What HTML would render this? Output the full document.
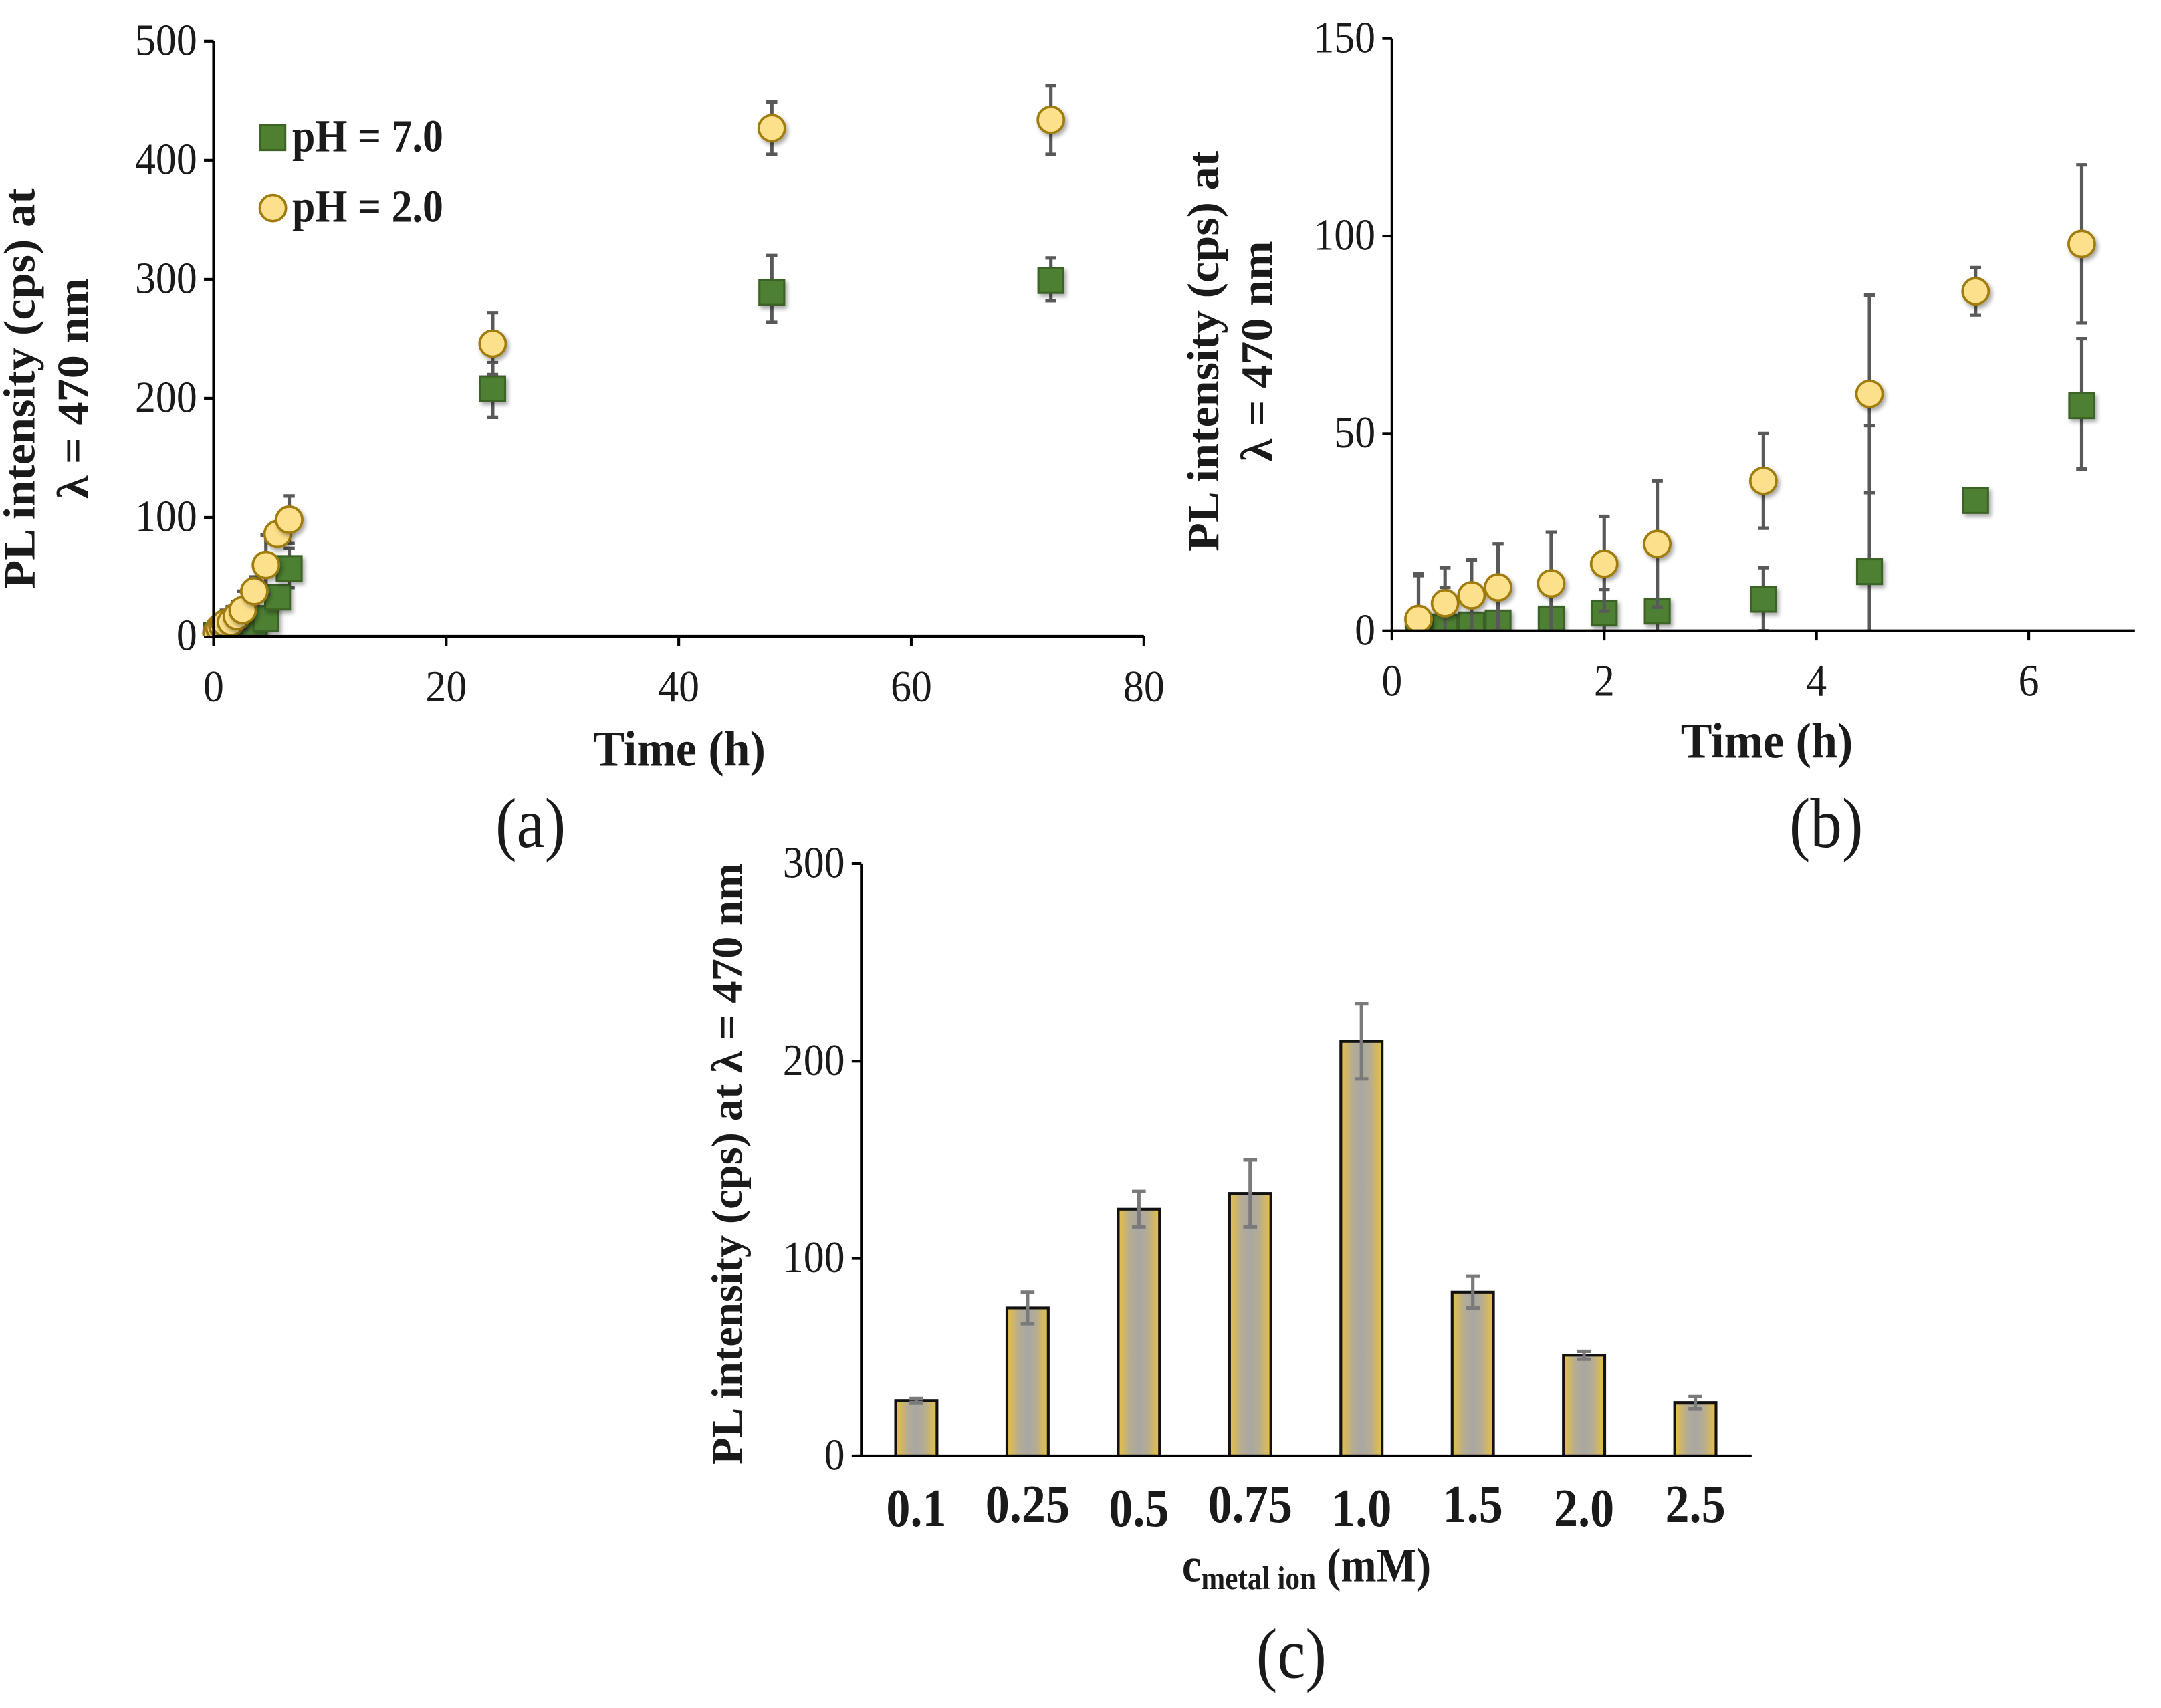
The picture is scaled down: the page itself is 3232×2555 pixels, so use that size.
<!DOCTYPE html>
<html><head><meta charset="utf-8"><style>
html,body{margin:0;padding:0;background:#fff;}
svg{display:block;}
text{font-family:"Liberation Serif",serif;fill:#1a1a1a;}
</style></head><body>
<svg id="fig" width="3232" height="2555" viewBox="0 0 1568 1240" preserveAspectRatio="none" xmlns="http://www.w3.org/2000/svg">
<defs>
<linearGradient id="barg" x1="0" y1="0" x2="1" y2="0">
<stop offset="0" stop-color="#e8c040"/><stop offset="0.3" stop-color="#b4ac94"/><stop offset="0.5" stop-color="#a9a7a3"/><stop offset="0.7" stop-color="#b4ac94"/><stop offset="1" stop-color="#e8c040"/>
</linearGradient>
<filter id="sh" x="-30%" y="-30%" width="160%" height="160%"><feDropShadow dx="1.5" dy="2" stdDeviation="1.5" flood-color="#000" flood-opacity="0.35"/></filter>
</defs>
<g id="pa"></g>
<g id="pb"></g>
<g id="pc"></g>
</svg>
<script>
// Panel a/b data: time (h), intensity, error (+/-)
const timeH = [0.25,0.5,0.75,1,1.5,2,2.5,3.5,4.5,5.5,6.5,24,48,72];
const ph7Vals = [0.5,1,1.5,2,3,4.5,5,8,15,33,57,208,289,299];
const ph7ErrUp = [14,10,10,8,6,6,20,8,37,0,17,22,31,19];
const ph7ErrDn = [14,10,10,8,6,6,20,8,37,0,16,24,25,17];
const ph2Vals = [3,7,9,11,12,17,22,38,60,86,98,246,427,434];
const ph2Err = [11,9,9,11,13,12,16,12,25,6,20,26,22,29];
// Panel c data
const concLabels = ["0.1","0.25","0.5","0.75","1.0","1.5","2.0","2.5"];
const concVals = [28,75,125,133,210,83,51,27];
const concErr = [1,8,9,17,19,8,2,3];

const NS="http://www.w3.org/2000/svg";
function mk(parent,tag,attrs,txt){const e=document.createElementNS(NS,tag);for(const k in attrs)e.setAttribute(k,attrs[k]);if(txt!==undefined)e.textContent=txt;parent.appendChild(e);return e;}
function txt(parent,x,y,str,size,sy,anchor,bold){
  const a={transform:`translate(${x},${y}) scale(1,${sy})`,"text-anchor":anchor,"font-size":size};
  if(bold)a["font-weight"]="bold";
  return mk(parent,"text",a,str);
}
const ERRC="#595959";

function scatterPanel(g,cfg){
  const sx=v=>cfg.x0+(v-cfg.xmin)/(cfg.xmax-cfg.xmin)*(cfg.x1-cfg.x0);
  const sy=v=>cfg.y0-(v-0)/(cfg.ymax)*(cfg.y0-cfg.y1);
  const clipId=cfg.id+"clip";
  const cp=mk(g,"clipPath",{id:clipId});mk(cp,"rect",{x:cfg.x0-30,y:cfg.y1-40,width:cfg.x1-cfg.x0+60,height:cfg.y0-cfg.y1+40});
  cfg.yticks.forEach(v=>{
    const l=mk(g,"line",{x1:cfg.x0-7,x2:cfg.x0,y1:sy(v),y2:sy(v),stroke:"#000","stroke-width":2});
    
    
    const t=txt(g,cfg.x0-12,sy(v)+10,String(v),30,1.08,"end",false);
    
    
  });
  cfg.xticks.forEach(v=>{
    const l=mk(g,"line",{x1:sx(v),x2:sx(v),y1:cfg.y0,y2:cfg.y0+7,stroke:"#000","stroke-width":2});
    
    
    const t=txt(g,sx(v),cfg.y0+47,String(v),30,1.08,"middle",false);
    
    
  });
  const mg=mk(g,"g",{"clip-path":"url(#"+clipId+")"});
  const idx=timeH.map((t,i)=>i).filter(i=>timeH[i]<=cfg.xmax);
  function eb(x,v,up,dn){
    if(up<=0&&dn<=0)return;
    const ytop=sy(v+up), ybot=sy(v-dn);
    const e=mk(mg,"path",{d:`M${x},${ytop}V${ybot}M${x-4},${ytop}H${x+4}M${x-4},${ybot}H${x+4}`,stroke:ERRC,"stroke-width":2.5,fill:"none"});
    
    
  }
  idx.forEach(i=>{eb(sx(timeH[i]),ph7Vals[i],ph7ErrUp[i],ph7ErrDn[i]);});
  idx.forEach(i=>{
    const x=sx(timeH[i]),y=sy(ph7Vals[i]);
    const r=mk(mg,"rect",{x:x-9,y:y-9,width:18,height:18,fill:"#4e8030",stroke:"#3b6425","stroke-width":1.5,filter:"url(#sh)"});
    
    
  });
  idx.forEach(i=>{eb(sx(timeH[i]),ph2Vals[i],ph2Err[i],ph2Err[i]);});
  idx.forEach(i=>{
    const x=sx(timeH[i]),y=sy(ph2Vals[i]);
    const c=mk(mg,"circle",{cx:x,cy:y,r:9.5,fill:"#fde08c",stroke:"#a07c10","stroke-width":1.8,filter:"url(#sh)"});
    
    
  });
  const ya=mk(g,"line",{x1:cfg.x0,x2:cfg.x0,y1:cfg.y1,y2:cfg.y0,stroke:"#000","stroke-width":2});
  
  
  const xa=mk(g,"line",{x1:cfg.x0,x2:cfg.x1,y1:cfg.y0,y2:cfg.y0,stroke:"#000","stroke-width":2});
  
  
  const yt=mk(g,"text",{transform:`translate(${cfg.ylx},${cfg.yly}) rotate(-90) scale(1.1,1.05)`,"text-anchor":"middle","font-weight":"bold","font-size":"31"});
  
  
  mk(yt,"tspan",{x:0,y:0},"PL intensity (cps) at");
  mk(yt,"tspan",{x:0,y:37},"λ = 470 nm");
  const xt=txt(g,cfg.xtx,cfg.xty,"Time (h)",34,1.08,"middle",true);
  
  
  const pl=txt(g,cfg.plx,cfg.ply,cfg.label,46,1.12,"middle",false);
  
  
}

scatterPanel(document.getElementById("pa"),{id:"a",x0:155,x1:830,y0:462,y1:30,xmin:0,xmax:80,ymax:500,
  yticks:[0,100,200,300,400,500],xticks:[0,20,40,60,80],ylx:25,yly:282,xtx:493,xty:556,plx:385,ply:615,label:"(a)"});
scatterPanel(document.getElementById("pb"),{id:"b",x0:1010,x1:1549,y0:458,y1:28,xmin:0,xmax:7,ymax:150,
  yticks:[0,50,100,150],xticks:[0,2,4,6],ylx:884,yly:255,xtx:1282,xty:550,plx:1325,ply:615,label:"(b)"});

(function(){
  const g=document.getElementById("pa");
  const lg=mk(g,"g",{});
  
  
  const r=mk(lg,"rect",{x:189,y:91,width:18,height:18,fill:"#4e8030",stroke:"#3b6425","stroke-width":1.5});
  
  
  const t1=txt(lg,212,110,"pH = 7.0",30,1.12,"start",true);
  
  
  const c=mk(lg,"circle",{cx:198,cy:151,r:9.5,fill:"#fde08c",stroke:"#a07c10","stroke-width":1.8});
  
  
  const t2=txt(lg,212,161,"pH = 2.0",30,1.12,"start",true);
  
  
})();

(function(){
  const g=document.getElementById("pc");
  const x0=625,x1=1271,y0=1057,y1=627,ymax=300;
  const sy=v=>y0-v/ymax*(y0-y1);
  const band=(1271-625)/concLabels.length;
  const cx=i=>x0+band*(i+0.5)-0.5;
  [0,100,200,300].forEach(v=>{
    const l=mk(g,"line",{x1:x0-7,x2:x0,y1:sy(v),y2:sy(v),stroke:"#000","stroke-width":2});
    
    
    const t=txt(g,x0-12,sy(v)+10,String(v),30,1.08,"end",false);
    
    
  });
  concVals.forEach((v,i)=>{
    const r=mk(g,"rect",{x:cx(i)-15,y:sy(v),width:30,height:y0-sy(v),fill:"url(#barg)",stroke:"#111","stroke-width":2});
    
    
    const e=concErr[i],x=cx(i);
    const p=mk(g,"path",{d:`M${x},${sy(v+e)}V${sy(v-e)}M${x-5},${sy(v+e)}H${x+5}M${x-5},${sy(v-e)}H${x+5}`,stroke:"#7a7a7a","stroke-width":2.5,fill:"none"});
    
    
    const t=txt(g,x,1106+(i%2?-1:2),concLabels[i],35,1.12,"middle",true);
    
    
  });
  const ya=mk(g,"line",{x1:x0,x2:x0,y1:y1,y2:y0,stroke:"#000","stroke-width":2});
  
  
  const xa=mk(g,"line",{x1:x0-5,x2:x1,y1:y0,y2:y0,stroke:"#000","stroke-width":2});
  
  
  const yt=mk(g,"text",{transform:"translate(538,845) rotate(-90) scale(1.08,1.05)","text-anchor":"middle","font-weight":"bold","font-size":"30"},"PL intensity (cps) at λ = 470 nm");
  
  
  const xt=mk(g,"text",{transform:"translate(948,1148) scale(1,1.12)","text-anchor":"middle","font-weight":"bold","font-size":"31"});
  
  
  mk(xt,"tspan",{},"c");
  mk(xt,"tspan",{"font-size":"21",dy:"5"},"metal ion");
  mk(xt,"tspan",{dy:"-5"}," (mM)");
  const pl=txt(g,937,1218,"(c)",46,1.12,"middle",false);
  
  
})();
</script>
</body></html>
